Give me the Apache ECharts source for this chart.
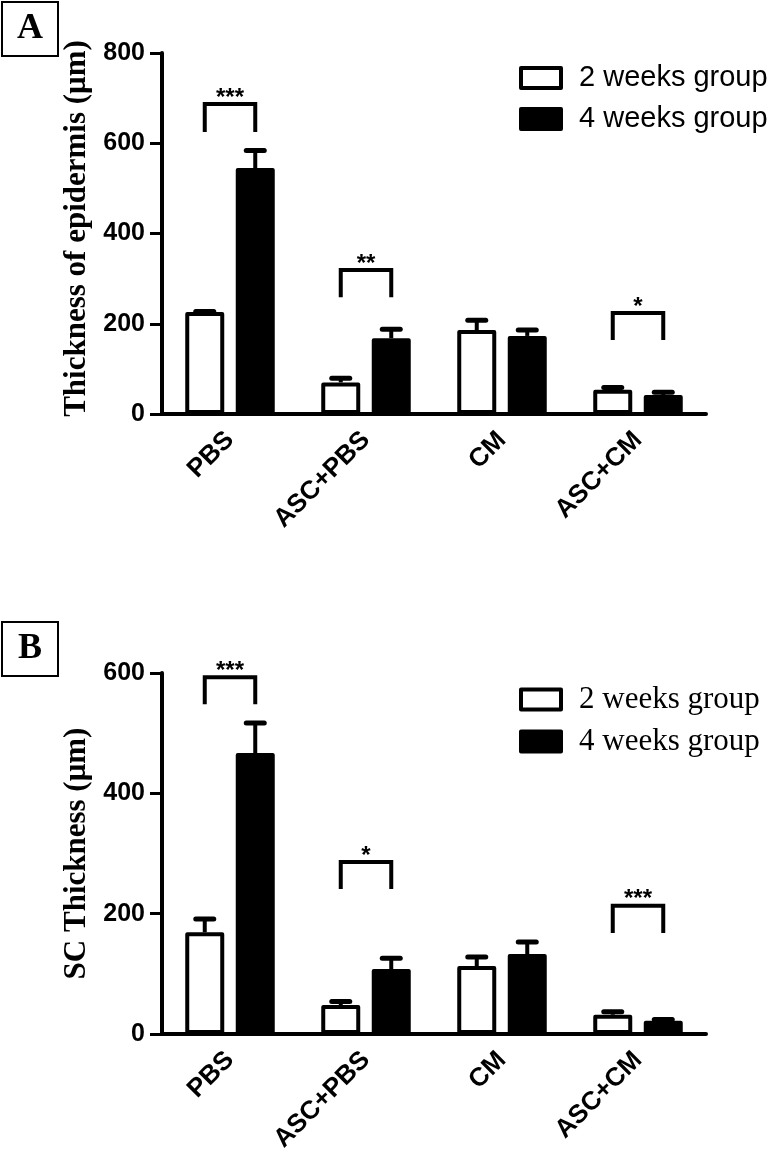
<!DOCTYPE html>
<html><head><meta charset="utf-8">
<script src="https://cdn.jsdelivr.net/npm/echarts@6/dist/echarts.min.js"></script>
<style>html,body{margin:0;padding:0;background:#fff}#c{width:774px;height:1168px}</style>
</head><body><div id="c"></div>
<script>
// ---- data ----
const categories = ['PBS', 'ASC+PBS', 'CM', 'ASC+CM'];
const seriesNames = ['2 weeks group', '4 weeks group'];
// Panel A: thickness of epidermis (µm)
const epiMean2w = [226, 70, 186, 54];
const epiErr2w  = [1, 9, 22, 5];
const epiMean4w = [545, 168, 173, 42];
const epiErr4w  = [39, 20, 13, 6];
const epiSigCat  = [0, 1, 3];
const epiSigTop  = [687, 319, 224];
const epiSigLow  = [625, 259, 164];
const epiSigText = ['***', '**', '*'];
const epiYMax = 800, epiYStep = 200;
// Panel B: SC thickness (µm)
const scMean2w = [169, 48, 113, 32];
const scErr2w  = [22, 6, 15, 5];
const scMean4w = [467, 108, 133, 22];
const scErr4w  = [50, 18, 20, 2];
const scSigCat  = [0, 1, 3];
const scSigTop  = [593, 286, 213];
const scSigLow  = [548, 241, 168];
const scSigText = ['***', '*', '***'];
const scYMax = 600, scYStep = 200;

// ---- style ----
const SANS = '"Liberation Sans", Arial, sans-serif';
const SERIF = '"Liberation Serif", "Times New Roman", serif';
const BAR_W = 39, GAP_PX = 11.5;
const OFF = (BAR_W + GAP_PX) / 2;
const BAR_GAP = (GAP_PX / BAR_W * 100).toFixed(1) + '%';

function errRender(offset) {
  return function (params, api) {
    const c = api.value(0), m = api.value(1), e = api.value(2);
    const p0 = api.coord([c, m]), p1 = api.coord([c, m + e]);
    const x = p0[0] + offset;
    return { type: 'group', children: [
      { type: 'line', shape: { x1: x, y1: p0[1], x2: x, y2: p1[1] }, style: { stroke: '#000', lineWidth: 4 } },
      { type: 'line', shape: { x1: x - 9, y1: p1[1], x2: x + 9, y2: p1[1] }, style: { stroke: '#000', lineWidth: 5, lineCap: 'round' } }
    ] };
  };
}
function sigRender(labels) {
  return function (params, api) {
    const c = api.value(0), top = api.value(1), low = api.value(2);
    const pt = api.coord([c, top]), pl = api.coord([c, low]);
    const xl = pt[0] - OFF, xr = pt[0] + OFF;
    return { type: 'group', children: [
      { type: 'polyline', shape: { points: [[xl, pl[1]], [xl, pt[1]], [xr, pt[1]], [xr, pl[1]]] },
        style: { stroke: '#000', lineWidth: 4, fill: null, lineJoin: 'miter' } },
      { type: 'text', x: pt[0], y: pt[1] - 6,
        style: { text: labels[params.dataIndex], fontFamily: SANS, fontWeight: 'bold', fontSize: 24, fill: '#000', align: 'center', verticalAlign: 'middle' } }
    ] };
  };
}
function zip3(a, b, c) { return a.map((v, i) => [v, b[i], c[i]]); }
function idx(arr) { return arr.map((_, i) => i); }

function xAxis(gi) {
  return {
    type: 'category', gridIndex: gi, data: categories,
    axisLine: { lineStyle: { color: '#000', width: 4 } },
    axisTick: { alignWithLabel: true, length: 12, lineStyle: { color: '#000', width: 3 } },
    axisLabel: { rotate: 45, margin: 22, color: '#000', fontFamily: SANS, fontWeight: 'bold', fontSize: 26 }
  };
}
function yAxis(gi, max, step, name, pad) {
  return {
    type: 'value', gridIndex: gi, min: 0, max: max, interval: step,
    name: name, nameLocation: 'middle', nameGap: 70, nameRotate: 90,
    nameTextStyle: { fontFamily: SERIF, fontWeight: 'bold', fontSize: 31, color: '#000', padding: pad },
    axisLine: { show: true, lineStyle: { color: '#000', width: 4 } },
    axisTick: { show: true, length: 12, lineStyle: { color: '#000', width: 3 } },
    splitLine: { show: false },
    axisLabel: { margin: 17, color: '#000', fontFamily: SANS, fontWeight: 'bold', fontSize: 25 }
  };
}
function bars(gi, m2, e2, m4, e4, sigCat, sigTop, sigLow, sigText) {
  return [
    { type: 'bar', name: seriesNames[0], xAxisIndex: gi, yAxisIndex: gi, data: m2, barWidth: BAR_W, barGap: BAR_GAP,
      itemStyle: { color: '#fff', borderColor: '#000', borderWidth: 4, borderJoin: 'round' }, z: 2 },
    { type: 'bar', name: seriesNames[1], xAxisIndex: gi, yAxisIndex: gi, data: m4, barWidth: BAR_W, barGap: BAR_GAP,
      itemStyle: { color: '#000', borderColor: '#000', borderWidth: 4, borderJoin: 'round' }, z: 2 },
    { type: 'custom', xAxisIndex: gi, yAxisIndex: gi, renderItem: errRender(-OFF), data: zip3(idx(m2), m2, e2), z: 3, silent: true },
    { type: 'custom', xAxisIndex: gi, yAxisIndex: gi, renderItem: errRender(OFF), data: zip3(idx(m4), m4, e4), z: 3, silent: true },
    { type: 'custom', xAxisIndex: gi, yAxisIndex: gi, renderItem: sigRender(sigText), data: zip3(sigCat, sigTop, sigLow), z: 3, silent: true }
  ];
}
function legend(top, font, size) {
  return {
    orient: 'vertical', left: 519, top: top, padding: 0, itemGap: 11,
    itemWidth: 40, itemHeight: 20, icon: 'rect',
    textStyle: { fontFamily: font, fontSize: size, lineHeight: 30, color: '#000', padding: [0, 0, 0, 13] },
    data: [
      { name: seriesNames[0], itemStyle: { color: '#fff', borderColor: '#000', borderWidth: 4 } },
      { name: seriesNames[1], itemStyle: { color: '#000', borderColor: '#000', borderWidth: 4 } }
    ],
    selectedMode: false
  };
}
function panelTitle(text, top, padH) {
  return {
    text: text, left: 2, top: top, borderWidth: 2, borderColor: '#000', padding: [9, padH, 9, padH],
    textStyle: { fontFamily: SERIF, fontWeight: 'bold', fontSize: 36, lineHeight: 36, color: '#000' }
  };
}

const chart = echarts.init(document.getElementById('c'), null, { renderer: 'canvas' });
chart.setOption({
  animation: false,
  backgroundColor: '#fff',
  title: [panelTitle('A', 2, 15), panelTitle('B', 622, 16)],
  legend: [legend(63, SANS, 29), legend(684, SERIF, 31)],
  grid: [
    { left: 162, top: 53, width: 544, height: 361 },
    { left: 162, top: 673, width: 544, height: 361 }
  ],
  xAxis: [xAxis(0), xAxis(1)],
  yAxis: [
    yAxis(0, epiYMax, epiYStep, 'Thickness of epidermis (μm)', [0, 0, 0, 10]),
    yAxis(1, scYMax, scYStep, 'SC Thickness (μm)', 0)
  ],
  series: [].concat(
    bars(0, epiMean2w, epiErr2w, epiMean4w, epiErr4w, epiSigCat, epiSigTop, epiSigLow, epiSigText),
    bars(1, scMean2w, scErr2w, scMean4w, scErr4w, scSigCat, scSigTop, scSigLow, scSigText)
  )
});
</script></body></html>
